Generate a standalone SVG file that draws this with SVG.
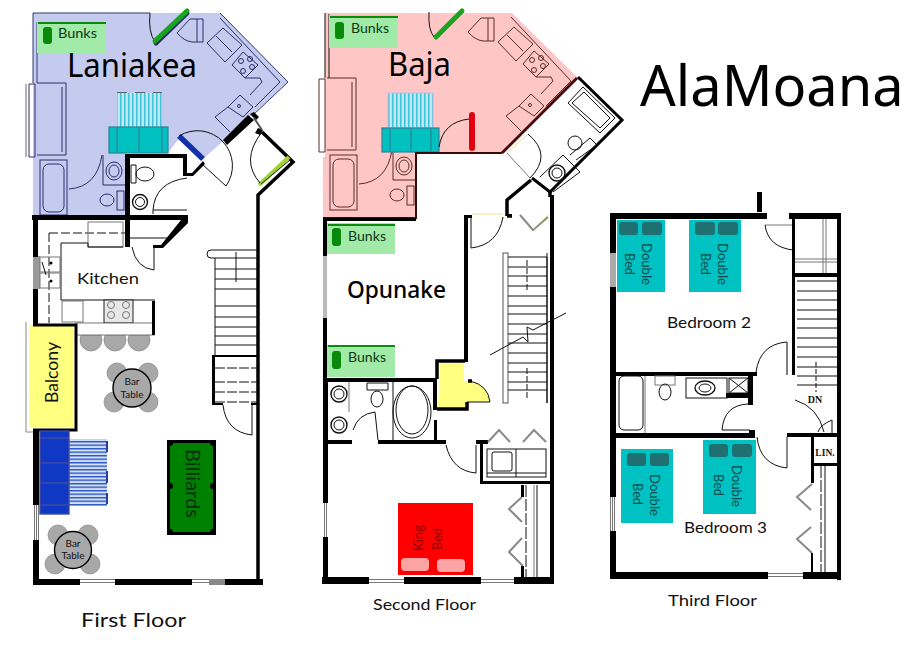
<svg xmlns="http://www.w3.org/2000/svg" xmlns:xlink="http://www.w3.org/1999/xlink" width="909" height="648" viewBox="0 0 909 648">
<style>
text{font-family:"Lato","Noto Sans",sans-serif;fill:#111}
.big{font-family:"Noto Sans","Open Sans",sans-serif;fill:#000}
.lb{font-size:12.500px;fill:#0c3a14}
.fl{fill:none;stroke:#111;stroke-width:1}
.gr{fill:none;stroke:#777;stroke-width:1}
.wall{fill:#000;stroke:none}
.ln{fill:none;stroke:#111;stroke-width:1.4}
.thk{fill:none;stroke:#000;stroke-width:3.5}
.chair{fill:#a8a8a8;stroke:#888;stroke-width:.7}
.tbl{fill:#a8a8a8;stroke:#000;stroke-width:1.4}
.bed{fill:#00c2c2}
.pil{fill:#1f7070}
.bt{font-size:13px;fill:#0b4a4a}
.sofa{fill:#00c0c0;stroke:#2a8496;stroke-width:1.2}
.cv{fill:none;stroke:#8a8a8a;stroke-width:2}
.cy{fill:none;stroke:#e8e28a;stroke-width:1}
</style>
<defs>
<pattern id="cyanb" width="4" height="6" patternUnits="userSpaceOnUse"><rect width="4" height="6" fill="#a4e6ee"/><rect x="0" width="1.500" height="6" fill="#44c4d8"/><rect x="2.500" width=".8" height="6" fill="#d8f6f8"/></pattern>
<pattern id="blueb" width="6" height="3.500" patternUnits="userSpaceOnUse"><rect width="6" height="3.500" fill="#c4d4f4"/><rect y="0" width="6" height="1.400" fill="#2c58c4"/><rect y="2.200" width="6" height=".6" fill="#f4f8ff"/></pattern>
<pattern id="winh" width="4" height="3" patternUnits="userSpaceOnUse"><rect width="4" height="3" fill="#fff"/><rect width="4" height="1" fill="#777"/></pattern>
<pattern id="winv" width="2" height="4" patternUnits="userSpaceOnUse"><rect width="2" height="4" fill="#fff"/><rect width="1" height="4" fill="#777"/></pattern>
<g id="kunit" fill="none" stroke-width="1">
<path d="M177 33L190 19H203V42H192M197 19V42"/>
<path d="M177 33Q184 41 192 42"/>
<path d="M220 18L280 82L255 107"/>
<path d="M223 28L207 43L225 62L242 45ZM216 36L232 52"/>
<path d="M232 65L243 52L258 65L245 78Z"/>
<circle cx="241" cy="61" r="2.500"/><circle cx="250" cy="59" r="2.500"/><circle cx="243" cy="71" r="2.500"/><circle cx="252" cy="67" r="2.500"/>
<path d="M245 78L260 78L262 82L250 95"/>
<path d="M228 107L240 95L253 107L243 117Z"/><circle cx="239" cy="106" r="1.500"/>
<path d="M215 117L228 107M215 117L230 132"/>
</g>
<g id="bunit" fill="none" stroke-width="1">
<rect x="40" y="160" width="27" height="55"/>
<rect x="43" y="164" width="21" height="48" rx="6"/>
<path d="M69 189Q97 187 102 155"/>
<path d="M103 155V185H125"/>
<ellipse cx="114" cy="171" rx="8" ry="9"/><ellipse cx="114" cy="171" rx="5" ry="6"/>
<ellipse cx="107" cy="200" rx="7" ry="6"/>
<rect x="117" y="191" width="7" height="19"/>
<path d="M37 83H66V155H37M62 87V152"/>
<path d="M29 84H35V157H29Z"/>
</g>
</defs>

<g id="first-floor">
<path d="M33 13H220L288 82L250 117L202 160L180 137L168 153H125V215H33Z" fill="#c4cbee"/>
<path d="M33 13H150M33 13V83M37 22V83M220 13L288 82L252 116" fill="none" stroke="#333a70" stroke-width="1"/>
<use xlink:href="#kunit" href="#kunit" stroke="#2a2f6a"/>
<use xlink:href="#bunit" href="#bunit" stroke="#2a2f6a"/>
<path d="M26 84V157" stroke="#666" fill="none"/>
<rect x="37" y="22" width="69" height="31" fill="#a2eaa8"/><rect x="38" y="22" width="68" height="2" fill="#0a8a0a"/><rect x="43" y="27" width="9" height="17" rx="3" fill="#0a8a0a"/>
<text class="lb" x="58" y="38" textLength="39" lengthAdjust="spacingAndGlyphs">Bunks</text>
<text class="big" x="67" y="77" font-size="33" textLength="130" lengthAdjust="spacingAndGlyphs">Laniakea</text>
<rect x="117" y="93" width="45" height="34" fill="url(#cyanb)"/>
<path d="M117 92.500h45" stroke="#566" stroke-dasharray="10 8" fill="none"/>
<rect class="sofa" x="109" y="127" width="59" height="26"/><path d="M117 127V153M139 127V153M162 127V153" stroke="#2a8496" stroke-width="1.2" fill="none"/>
<path d="M150 13Q148 32 155 42" class="fl"/>
<path d="M156 43L187 13" stroke="#2a2f6a" stroke-width="5" stroke-linecap="round"/>
<path d="M155 41L187 11" stroke="#1aa520" stroke-width="5" stroke-linecap="round"/>
<rect class="wall" x="32" y="215" width="156" height="5"/>
<path class="wall" d="M125 154H187V173H192L203 161L205 164L193 176H183V158H130V215H125Z"/>
<path class="wall" d="M223 140L248 115L254 120L227 145Z"/>
<path class="wall" d="M250 114L254 112L259 117L256 120ZM258 128L263 130L260 135L255 133Z"/>
<path d="M254 118L262 130" stroke="#555" stroke-width="2" fill="none"/>
<path d="M262 132L293 162L258 195V585" class="thk" stroke-width="4" fill="none"/>
<path d="M259 185L289 157" stroke="#9ed22c" stroke-width="4"/>
<path d="M261 184L290 160" stroke="#222" stroke-width="1"/>
<path d="M262 132Q240 160 260 183" class="fl"/>
<path d="M179 136L203 159" stroke="#1230a8" stroke-width="5.500"/>
<path d="M179 136A35 35 0 0 1 226 186L203 165" class="fl"/>
<path d="M145 174m-9 0a9 7 0 1 0 18 0a9 7 0 1 0-18 0M131 165h5v18h-5z" class="fl"/>
<circle cx="140" cy="202" r="7.500" class="ln"/><circle cx="140" cy="202" r="4.500" class="fl"/>
<path d="M153 210Q155 182 187 178M153 210V214M153 210H187" class="fl"/>
<path d="M49 233H127M49 233V323" class="fl" stroke-dasharray="9 3"/>
<rect x="88" y="222" width="35" height="25" class="gr"/>
<path d="M61 243H88V247H123M61 243V300H155M130 238H167" class="fl" stroke-width=".9"/>
<rect x="33" y="256" width="7" height="33" fill="#999"/>
<rect x="40" y="257" width="20" height="15" class="gr"/><rect x="40" y="273" width="20" height="15" class="gr"/><circle cx="51" cy="263" r="1.500"/><circle cx="51" cy="281" r="1.500"/>
<path d="M42 262L46 275" stroke="#111"/>
<rect x="62" y="301" width="21" height="21" class="gr"/>
<rect x="104" y="300" width="29" height="23" fill="#e8e8e8" stroke="#222"/>
<circle cx="111" cy="305" r="3.500" class="gr"/><circle cx="126" cy="305" r="3.500" class="gr"/><circle cx="111" cy="315" r="3.500" class="gr"/><circle cx="126" cy="315" r="3.500" class="gr"/>
<circle class="chair" cx="91" cy="340" r="11"/><circle class="chair" cx="115" cy="340" r="11"/><circle class="chair" cx="139" cy="340" r="11"/>
<rect x="76" y="323" width="78" height="12" fill="#fff" stroke="#555" stroke-width=".8"/>
<rect class="wall" x="152" y="301" width="3" height="34"/>
<path class="wall" d="M125 220H130V247H125ZM181 220H188V223L163 248H153V245H161Z"/>
<path d="M132 247Q136 268 154 270V247" class="fl"/>
<text x="77" y="284" font-size="16" textLength="62" lengthAdjust="spacingAndGlyphs">Kitchen</text>
<rect class="wall" x="33" y="220" width="5" height="37"/><rect class="wall" x="33" y="289" width="5" height="35"/>
<rect x="29" y="325" width="44" height="102" fill="#ffff80"/>
<path d="M33 325H76V430H33" fill="none" stroke="#000" stroke-width="3"/>
<path d="M26 322V432H36" fill="none" stroke="#888"/>
<text transform="translate(58 403) rotate(-90)" font-size="18" textLength="61" lengthAdjust="spacingAndGlyphs">Balcony</text>
<rect class="wall" x="33" y="430" width="6" height="75"/><rect x="33" y="505" width="6" height="35" fill="url(#winv)"/><rect class="wall" x="33" y="540" width="6" height="42"/>
<rect class="wall" x="33" y="579" width="230" height="6"/>
<rect x="80" y="579" width="35" height="6" fill="url(#winh)"/><rect x="192" y="579" width="17" height="6" fill="url(#winh)"/><rect x="209" y="579" width="16" height="6" fill="#888"/>
<path d="M258 250H211a4 4 0 0 0 0 8H258M215 258V355M236 252V282" class="fl"/>
<path d="M215 269H258M215 279H258M215 289H258M215 306H258M215 317H258M215 327H258M215 336H258M215 345H258" class="fl" stroke-width=".8"/>
<path class="wall" d="M212 355H258V357H215V403H223V405H212ZM251 403H258V405H251Z"/>
<path d="M215 368H258M215 382H258M215 392H258M215 402H258" class="fl" stroke-dasharray="10 2"/>
<path d="M223 405Q226 432 252 435V405" class="fl"/>
<g id="bar-table-1"><circle class="chair" cx="117" cy="373" r="10"/><circle class="chair" cx="148" cy="373" r="10"/><circle class="chair" cx="114" cy="402" r="10"/><circle class="chair" cx="148" cy="402" r="10"/><circle class="tbl" cx="132" cy="388" r="19"/><text x="132" y="385" text-anchor="middle" font-size="10">Bar</text><text x="132" y="398" text-anchor="middle" font-size="10">Table</text></g>
<g id="bar-table-2"><circle class="chair" cx="58" cy="535" r="10"/><circle class="chair" cx="88" cy="535" r="10"/><circle class="chair" cx="55" cy="564" r="10"/><circle class="chair" cx="90" cy="564" r="10"/><circle class="tbl" cx="73" cy="550" r="18.500"/><text x="73" y="547" text-anchor="middle" font-size="10">Bar</text><text x="73" y="559" text-anchor="middle" font-size="10">Table</text></g>
<g id="sofa-blue">
<rect x="69" y="439" width="38" height="67" fill="url(#blueb)"/>
<rect x="40" y="431" width="29" height="83" fill="#0f38c4" stroke="#3f4aa0" stroke-width="1.4"/><path d="M40 438H69M40 463H69M40 483H69M40 505H69" stroke="#3f4aa0" stroke-width="1.400"/>
<path d="M107 441V452M107 471V483M107 493V504" stroke="#2c3c9c" stroke-width="2"/>
</g>
<g id="billiards">
<rect x="168.500" y="441.500" width="46" height="92" fill="#008000" stroke="#000" stroke-width="3"/>
<circle cx="170" cy="443" r="3"/><circle cx="213" cy="443" r="3"/><circle cx="170" cy="532" r="3"/><circle cx="213" cy="532" r="3"/><circle cx="170" cy="486" r="3"/><circle cx="213" cy="486" r="3"/>
<text transform="translate(186 449) rotate(90)" font-size="19" style="fill:#06300a" textLength="69" lengthAdjust="spacingAndGlyphs">Billiards</text>
</g>
<text x="81" y="627" font-size="20" textLength="105" lengthAdjust="spacingAndGlyphs">First Floor</text>
</g>

<g id="second-floor">
<path d="M325 13H512L577 77L502 153H416V218H323V157H325Z" fill="#ffc6c6"/>
<path d="M325 13V78M329 14V78" class="fl" stroke="#555"/>
<use xlink:href="#kunit" href="#kunit" x="291" y="-1" stroke="#5a2c2c"/>
<use xlink:href="#bunit" href="#bunit" x="290" y="-5" stroke="#5a2c2c"/>
<rect x="329" y="15" width="69" height="33" fill="#a2eaa8"/><rect x="330" y="16" width="68" height="2" fill="#0a8a0a"/><rect x="335" y="22" width="9" height="17" rx="3" fill="#0a8a0a"/>
<text class="lb" x="351" y="33" textLength="38" lengthAdjust="spacingAndGlyphs">Bunks</text>
<text class="big" x="388" y="76" font-size="33" textLength="63" lengthAdjust="spacingAndGlyphs">Baja</text>
<rect x="388" y="93" width="45" height="35" fill="url(#cyanb)" stroke="#b8bcec"/>
<rect class="sofa" x="382" y="128" width="57" height="24"/><path d="M390 128V152M411 128V152M431 128V152" stroke="#2a8496" stroke-width="1.2" fill="none"/>
<path d="M439 147Q443 122 469 119" class="fl"/>
<path d="M472 115V148" stroke="#e00010" stroke-width="6" stroke-linecap="round"/>
<path d="M429 12Q428 30 434 37" class="fl"/>
<path d="M436 37L462 11" stroke="#1aa520" stroke-width="5" stroke-linecap="round"/>
<path d="M416 152V218H323M416 153H502" stroke="#3a0808" stroke-width="2" fill="none"/>
<path d="M502 153L577 78" stroke="#4a0a0a" stroke-width="3" fill="none"/>
<path d="M578 77L622 120L550 192L532 178" fill="none" stroke="#000" stroke-width="3"/>
<path d="M568 103L583 87L615 118L600 133Z" class="fl"/>
<path d="M572 103L584 92L610 118L600 128Z" class="fl" stroke-width=".8"/>
<circle cx="575" cy="143" r="7" class="fl"/><path d="M576 160L597 145L590 138L570 155" class="fl"/>
<circle cx="557" cy="173" r="8" class="ln"/><circle cx="557" cy="173" r="5" class="fl"/>
<path d="M540 177L563 155L580 172L553 192" class="fl" stroke-width=".8"/>
<path d="M507 153L530 178" class="gr" stroke-width="1.500"/><path d="M507 153L528 134" class="cy"/>
<path d="M528 134Q553 155 530 178" class="fl"/>
<path d="M531 180L507 200V216M507 216H512M550 192V197" class="thk"/>
<rect class="wall" x="323" y="218" width="93" height="3"/>
<rect class="wall" x="323" y="220" width="4" height="36"/><rect x="323" y="256" width="4" height="62" fill="#bbb"/><rect class="wall" x="323" y="318" width="4" height="85"/>
<rect x="327" y="223" width="68" height="31" fill="#a2eaa8"/><rect x="328" y="224" width="67" height="2" fill="#0a8a0a"/><rect x="332" y="228" width="9" height="18" rx="3" fill="#0a8a0a"/>
<text class="lb" x="348" y="241" textLength="38" lengthAdjust="spacingAndGlyphs">Bunks</text>
<text class="big" x="347" y="298" font-size="23" font-weight="500" textLength="99" lengthAdjust="spacingAndGlyphs">Opunake</text>
<rect x="327" y="345" width="68" height="32" fill="#a2eaa8"/><rect x="328" y="345" width="67" height="2" fill="#0a8a0a"/><rect x="332" y="351" width="9" height="18" rx="3" fill="#0a8a0a"/>
<text class="lb" x="348" y="362" textLength="38" lengthAdjust="spacingAndGlyphs">Bunks</text>
<path class="wall" d="M464 215H472V218H468V362H464Z"/>
<rect class="wall" x="507" y="214" width="5" height="3"/>
<path d="M472 214H503" class="cy" stroke-width="1.200"/>
<path d="M471 218V248Q498 245 503 217" class="fl"/>
<path d="M520 215L533 230L548 217" class="cv"/><path d="M533 229L548 215" class="cy"/>
<rect class="wall" x="550" y="195" width="4" height="388"/>
<rect x="503" y="253" width="5" height="150" fill="#fff" stroke="#555"/>
<path d="M508 257H547V403M547 253V403" class="fl"/>
<path d="M508 267H547M508 276H547M508 286H547M508 296H547M508 306H547M508 314H547M508 324H547M508 334H547M508 343H547M508 353H547M508 363H547M508 372H547M508 382H547M508 390H547" class="fl" stroke-width=".8"/>
<path d="M527 260V290M527 368V400" class="fl" stroke-dasharray="6 2"/>
<path d="M490 355L523 337L528 342L527 327L533 330L566 313" class="fl" stroke-width=".8"/>
<path d="M440 363H464V381H470Q488 385 490 402H467V408H438Z" fill="#ffff80" stroke="none"/>
<path d="M470 381Q488 385 490 402H467" class="fl"/>
<path d="M437 379V361H465M468 381H472M437 409H467V402" class="thk" stroke-width="3"/>
<rect class="wall" x="323" y="378" width="114" height="4"/>
<rect class="wall" x="433" y="380" width="4" height="30"/><rect class="wall" x="434" y="420" width="3" height="22"/>
<rect class="wall" x="323" y="380" width="5" height="203"/>
<rect x="323" y="503" width="5" height="34" fill="url(#winv)"/>
<circle cx="339" cy="394" r="8" class="ln"/><circle cx="339" cy="394" r="5" class="fl"/><circle cx="339" cy="425" r="8" class="ln"/><circle cx="339" cy="425" r="5" class="fl"/>
<path d="M349 382V412" class="gr"/>
<path d="M367 383H388V390H367Z" class="fl"/><ellipse cx="377" cy="399" rx="6" ry="8" class="fl"/>
<path d="M393 382V440M353 430Q358 414 375 412L378 440" class="fl"/>
<ellipse cx="412" cy="412" rx="19" ry="26" class="fl"/><ellipse cx="412" cy="410" rx="16" ry="24" class="fl"/>
<rect class="wall" x="323" y="440" width="29" height="4"/><rect class="wall" x="378" y="440" width="68" height="4"/>
<path d="M446 445Q452 471 476 473V445" class="fl"/>
<rect class="wall" x="476" y="440" width="12" height="4"/>
<rect class="wall" x="480" y="443" width="3" height="41"/><rect class="wall" x="480" y="481" width="72" height="3"/>
<rect x="487" y="449" width="59" height="28" class="fl"/><path d="M516 449V477M487 473H546" class="fl"/><rect x="492" y="452" width="20" height="19" rx="2" class="fl"/>
<path d="M488 442L499 430L510 442M523 442L534 430L546 442" class="cv"/>
<path d="M522 497L509 509L522 522M522 538L509 552L523 566" class="cv"/>
<rect class="wall" x="521" y="485" width="3" height="12"/><rect class="wall" x="521" y="566" width="3" height="12"/>
<path d="M526 485V578" class="fl" stroke-dasharray="12 2"/><path d="M534 485V578" class="gr"/><path d="M537 485V578" class="fl"/>
<rect class="wall" x="322" y="577" width="232" height="7"/>
<rect x="369" y="577" width="35" height="7" fill="url(#winh)"/><rect x="481" y="577" width="33" height="7" fill="url(#winh)"/>
<rect x="398" y="503" width="75" height="72" fill="#ff0000"/>
<rect x="401" y="558" width="28" height="13" rx="4" fill="#ffa4a4"/><rect x="437" y="559" width="28" height="13" rx="4" fill="#ffa4a4"/>
<text transform="translate(423 551) rotate(-90)" font-size="14" style="fill:#8a0000" textLength="26" lengthAdjust="spacingAndGlyphs">King</text>
<text transform="translate(442 550) rotate(-90)" font-size="14" style="fill:#8a0000" textLength="22" lengthAdjust="spacingAndGlyphs">Bed</text>
<text x="373" y="610" font-size="15" textLength="103" lengthAdjust="spacingAndGlyphs">Second Floor</text>
</g>

<g id="third-floor">
<text class="big" x="640" y="106" font-size="56">AlaMoana</text>
<rect class="wall" x="757" y="192" width="5" height="20"/>
<rect class="wall" x="610" y="213" width="157" height="6"/><rect class="wall" x="789" y="213" width="52" height="6"/>
<rect class="wall" x="610" y="213" width="6" height="365"/><rect x="610" y="253" width="6" height="34" fill="#aaa"/><rect x="610" y="497" width="6" height="34" fill="url(#winv)"/>
<rect class="wall" x="837" y="213" width="4" height="367"/>
<rect class="wall" x="610" y="572" width="231" height="7"/><rect x="768" y="572" width="35" height="7" fill="url(#winh)"/>
<g id="bed-a"><rect class="bed" x="617" y="220" width="48" height="72"/><rect class="pil" x="619" y="222" width="19" height="13" rx="3"/><rect class="pil" x="642" y="222" width="20" height="13" rx="3"/><text class="bt" transform="translate(642 243) rotate(90)" textLength="42" lengthAdjust="spacingAndGlyphs">Double</text><text class="bt" transform="translate(625 253) rotate(90)" textLength="22" lengthAdjust="spacingAndGlyphs">Bed</text></g>
<g id="bed-b"><rect class="bed" x="689" y="220" width="52" height="72"/><rect class="pil" x="695" y="222" width="20" height="13" rx="3"/><rect class="pil" x="718" y="222" width="20" height="13" rx="3"/><text class="bt" transform="translate(718 243) rotate(90)" textLength="42" lengthAdjust="spacingAndGlyphs">Double</text><text class="bt" transform="translate(701 253) rotate(90)" textLength="22" lengthAdjust="spacingAndGlyphs">Bed</text></g>
<text x="667" y="328" font-size="15" textLength="84" lengthAdjust="spacingAndGlyphs">Bedroom 2</text>
<path d="M765 225H792" class="gr" stroke-width="1.500"/><path d="M765 225Q768 247 793 250" class="fl"/>
<rect class="wall" x="792" y="219" width="3" height="156"/>
<rect class="wall" x="792" y="273" width="46" height="4"/>
<path d="M823 219V273M826 219V273M795 259H837M795 262H837" class="gr"/>
<path d="M797 281H837M797 291H837M797 300H837M797 310H837M797 319H837M797 328H837M797 338H837M797 347H837M797 357H837M797 367H837M797 376H837M797 385H837" class="fl"/>
<path d="M816 362V392" class="fl" stroke-dasharray="5 2"/>
<path d="M756 372Q760 344 787 342V375" class="fl"/><path d="M787 342V375" class="gr" stroke-width="1.500"/>
<rect class="wall" x="616" y="372" width="141" height="4"/>
<rect x="619" y="376" width="24" height="54" rx="5" class="fl"/><path d="M645 376V433" class="gr"/>
<rect x="655" y="376" width="20" height="9" class="gr"/><ellipse cx="665" cy="392" rx="6" ry="8" class="fl"/>
<rect x="686" y="378" width="41" height="20" class="fl"/><ellipse cx="705" cy="388" rx="10" ry="7" class="ln"/><ellipse cx="705" cy="388" rx="6" ry="4" class="fl"/>
<rect x="729" y="378" width="19" height="15" class="fl"/><path d="M729 378L748 393M748 378L729 393" class="fl"/>
<path class="wall" d="M748 375H753V405H748V398H726V393H748Z"/>
<path d="M748 404Q724 405 722 430H750" class="fl"/>
<rect class="wall" x="616" y="433" width="137" height="5"/><rect class="wall" x="749" y="430" width="6" height="8"/>
<path d="M757 437Q760 465 787 468V437" class="fl"/>
<path class="wall" d="M787 433H838V437H814V483H811V437H787Z"/>
<path d="M795 400Q818 407 824 432M818 432Q820 425 832 420V433" class="fl"/>
<rect class="wall" x="813" y="463" width="25" height="3"/>
<text x="815" y="403" text-anchor="middle" font-size="10" style="font-family:'Liberation Serif',serif;font-weight:700">DN</text>
<text x="825" y="456" text-anchor="middle" font-size="9.500" style="font-family:'Liberation Serif',serif;font-weight:700">LIN.</text>
<path d="M821 466V572" class="fl" stroke-dasharray="12 2"/><path d="M825 466V572" class="fl"/>
<path d="M812 484L797 497L811 510M811 527L797 539L812 553" class="cv"/>
<rect class="wall" x="811" y="553" width="2" height="19"/>
<g id="bed-c"><rect class="bed" x="621" y="449" width="52" height="74"/><rect class="pil" x="627" y="453" width="19" height="13" rx="3"/><rect class="pil" x="650" y="453" width="19" height="13" rx="3"/><text class="bt" transform="translate(650 474) rotate(90)" textLength="42" lengthAdjust="spacingAndGlyphs">Double</text><text class="bt" transform="translate(633 483) rotate(90)" textLength="22" lengthAdjust="spacingAndGlyphs">Bed</text></g>
<g id="bed-d"><rect class="bed" x="703" y="440" width="53" height="74"/><rect class="pil" x="709" y="444" width="19" height="13" rx="3"/><rect class="pil" x="732" y="444" width="20" height="13" rx="3"/><text class="bt" transform="translate(732 465) rotate(90)" textLength="42" lengthAdjust="spacingAndGlyphs">Double</text><text class="bt" transform="translate(714 474) rotate(90)" textLength="22" lengthAdjust="spacingAndGlyphs">Bed</text></g>
<text x="684" y="533" font-size="15" textLength="83" lengthAdjust="spacingAndGlyphs">Bedroom 3</text>
<text x="668" y="606" font-size="14.500" textLength="89" lengthAdjust="spacingAndGlyphs">Third Floor</text>
</g>
</svg>
